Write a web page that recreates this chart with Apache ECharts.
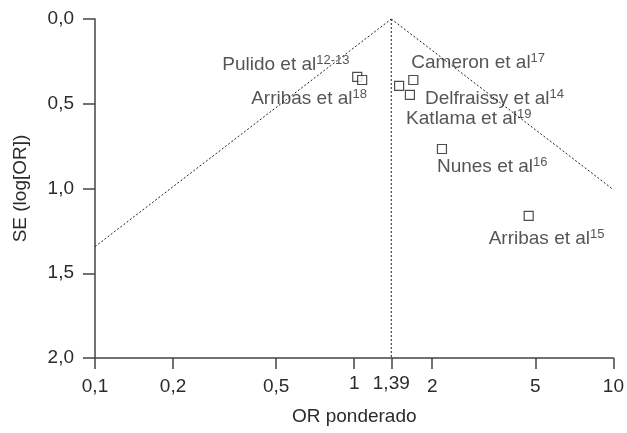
<!DOCTYPE html>
<html><head><meta charset="utf-8">
<script src="https://cdn.jsdelivr.net/npm/echarts@6/dist/echarts.min.js"></script>
<style>html,body{margin:0;padding:0;background:#fff}#c{width:627px;height:433px}</style>
</head><body><div id="c"></div>
<script>
// Study data (OR, SE of log OR)
const studies = ['Pulido et al', 'Arribas et al', 'Cameron et al', 'Delfraissy et al', 'Katlama et al', 'Nunes et al', 'Arribas et al'];
const refs    = ['12-13', '18', '17', '14', '19', '16', '15'];
const orValues = [1.027, 1.073, 1.69, 1.64, 1.49, 2.18, 4.71];
const seValues = [0.342, 0.36, 0.36, 0.448, 0.395, 0.767, 1.162];
const pooledOR = 1.39;
const funnelLeft  = [[0.1, 1.343], [1.39, 0]];
const funnelRight = [[1.39, 0], [10, 1.007]];
const xTicks = [0.1, 0.2, 0.5, 1, 1.39, 2, 5, 10];
const xRaised = [1, 1.39];

// label placement (text left edge / middle relative to the point, px)
const labelOffsets = [[-135, -13], [-111, 18], [-2, -18], [15, 3], [7, 32], [-5, 17], [-40, 22]];

const font = 'Liberation Sans, Arial, sans-serif';
const txt = '#2b2b2b';
const axisCol = '#444';
const FS = 19;

const chart = echarts.init(document.getElementById('c'));
const pts = orValues.map((v, i) => ({
  value: [v, seValues[i]],
  label: {
    show: true,
    position: 'inside',
    align: 'left',
    verticalAlign: 'middle',
    offset: labelOffsets[i],
    formatter: '{b|' + studies[i] + '}{s|' + refs[i] + '}',
    rich: {
      b: {fontSize: FS, fontFamily: font, color: txt, lineHeight: 20, verticalAlign: 'bottom'},
      s: {fontSize: 13, fontFamily: font, color: txt, lineHeight: 20, verticalAlign: 'top', padding: [0, 0, 7, 0]}
    }
  }
}));

chart.setOption({
  animation: false,
  grid: {left: 95, right: 12, top: 19, bottom: 75},
  xAxis: {
    type: 'log', logBase: 10, min: 0.1, max: 10,
    name: 'OR ponderado', nameLocation: 'middle', nameGap: 49,
    nameTextStyle: {fontSize: FS, fontFamily: font, color: txt},
    axisLine: {show: true, onZero: false, lineStyle: {color: axisCol, width: 1.5}},
    axisTick: {show: true, length: 11, lineStyle: {color: axisCol, width: 1.5}, customValues: xTicks},
    axisLabel: {fontSize: FS, fontFamily: font, color: txt, margin: 16, customValues: xTicks,
      formatter: v => {
        const n = +(+v).toFixed(2);
        const s = String(n).replace('.', ',');
        return xRaised.indexOf(n) >= 0 ? '{h|' + s + '}' : '{n|' + s + '}';
      },
      rich: {
        h: {fontSize: FS, fontFamily: font, color: txt},
        n: {fontSize: FS, fontFamily: font, color: txt, padding: [3, 0, 0, 0]}
      }
    },
    splitLine: {show: false}, minorTick: {show: false}
  },
  yAxis: {
    type: 'value', inverse: true, min: 0, max: 2, interval: 0.5,
    name: 'SE (log[OR])', nameLocation: 'middle', nameGap: 65, nameRotate: 90,
    nameTextStyle: {fontSize: FS, fontFamily: font, color: txt},
    axisLine: {show: true, onZero: false, lineStyle: {color: axisCol, width: 1.5}},
    axisTick: {show: true, length: 12, lineStyle: {color: axisCol, width: 1.5}},
    axisLabel: {fontSize: FS, fontFamily: font, color: txt, margin: 21,
      formatter: v => v.toFixed(1).replace('.', ',')},
    splitLine: {show: false}
  },
  series: [
    {type: 'line', data: funnelLeft, symbol: 'none', silent: true,
      lineStyle: {color: '#222', width: 1, type: [2, 2]}},
    {type: 'line', data: funnelRight, symbol: 'none', silent: true,
      lineStyle: {color: '#222', width: 1, type: [2, 2]}},
    {type: 'line', data: [[pooledOR, 0], [pooledOR, 2]], symbol: 'none', silent: true,
      lineStyle: {color: '#222', width: 1, type: [2, 2]}},
    {type: 'scatter', data: pts, symbol: 'rect', symbolSize: 9,
      itemStyle: {color: '#fff', borderColor: '#222', borderWidth: 1.2}, z: 5}
  ]
});
</script></body></html>
